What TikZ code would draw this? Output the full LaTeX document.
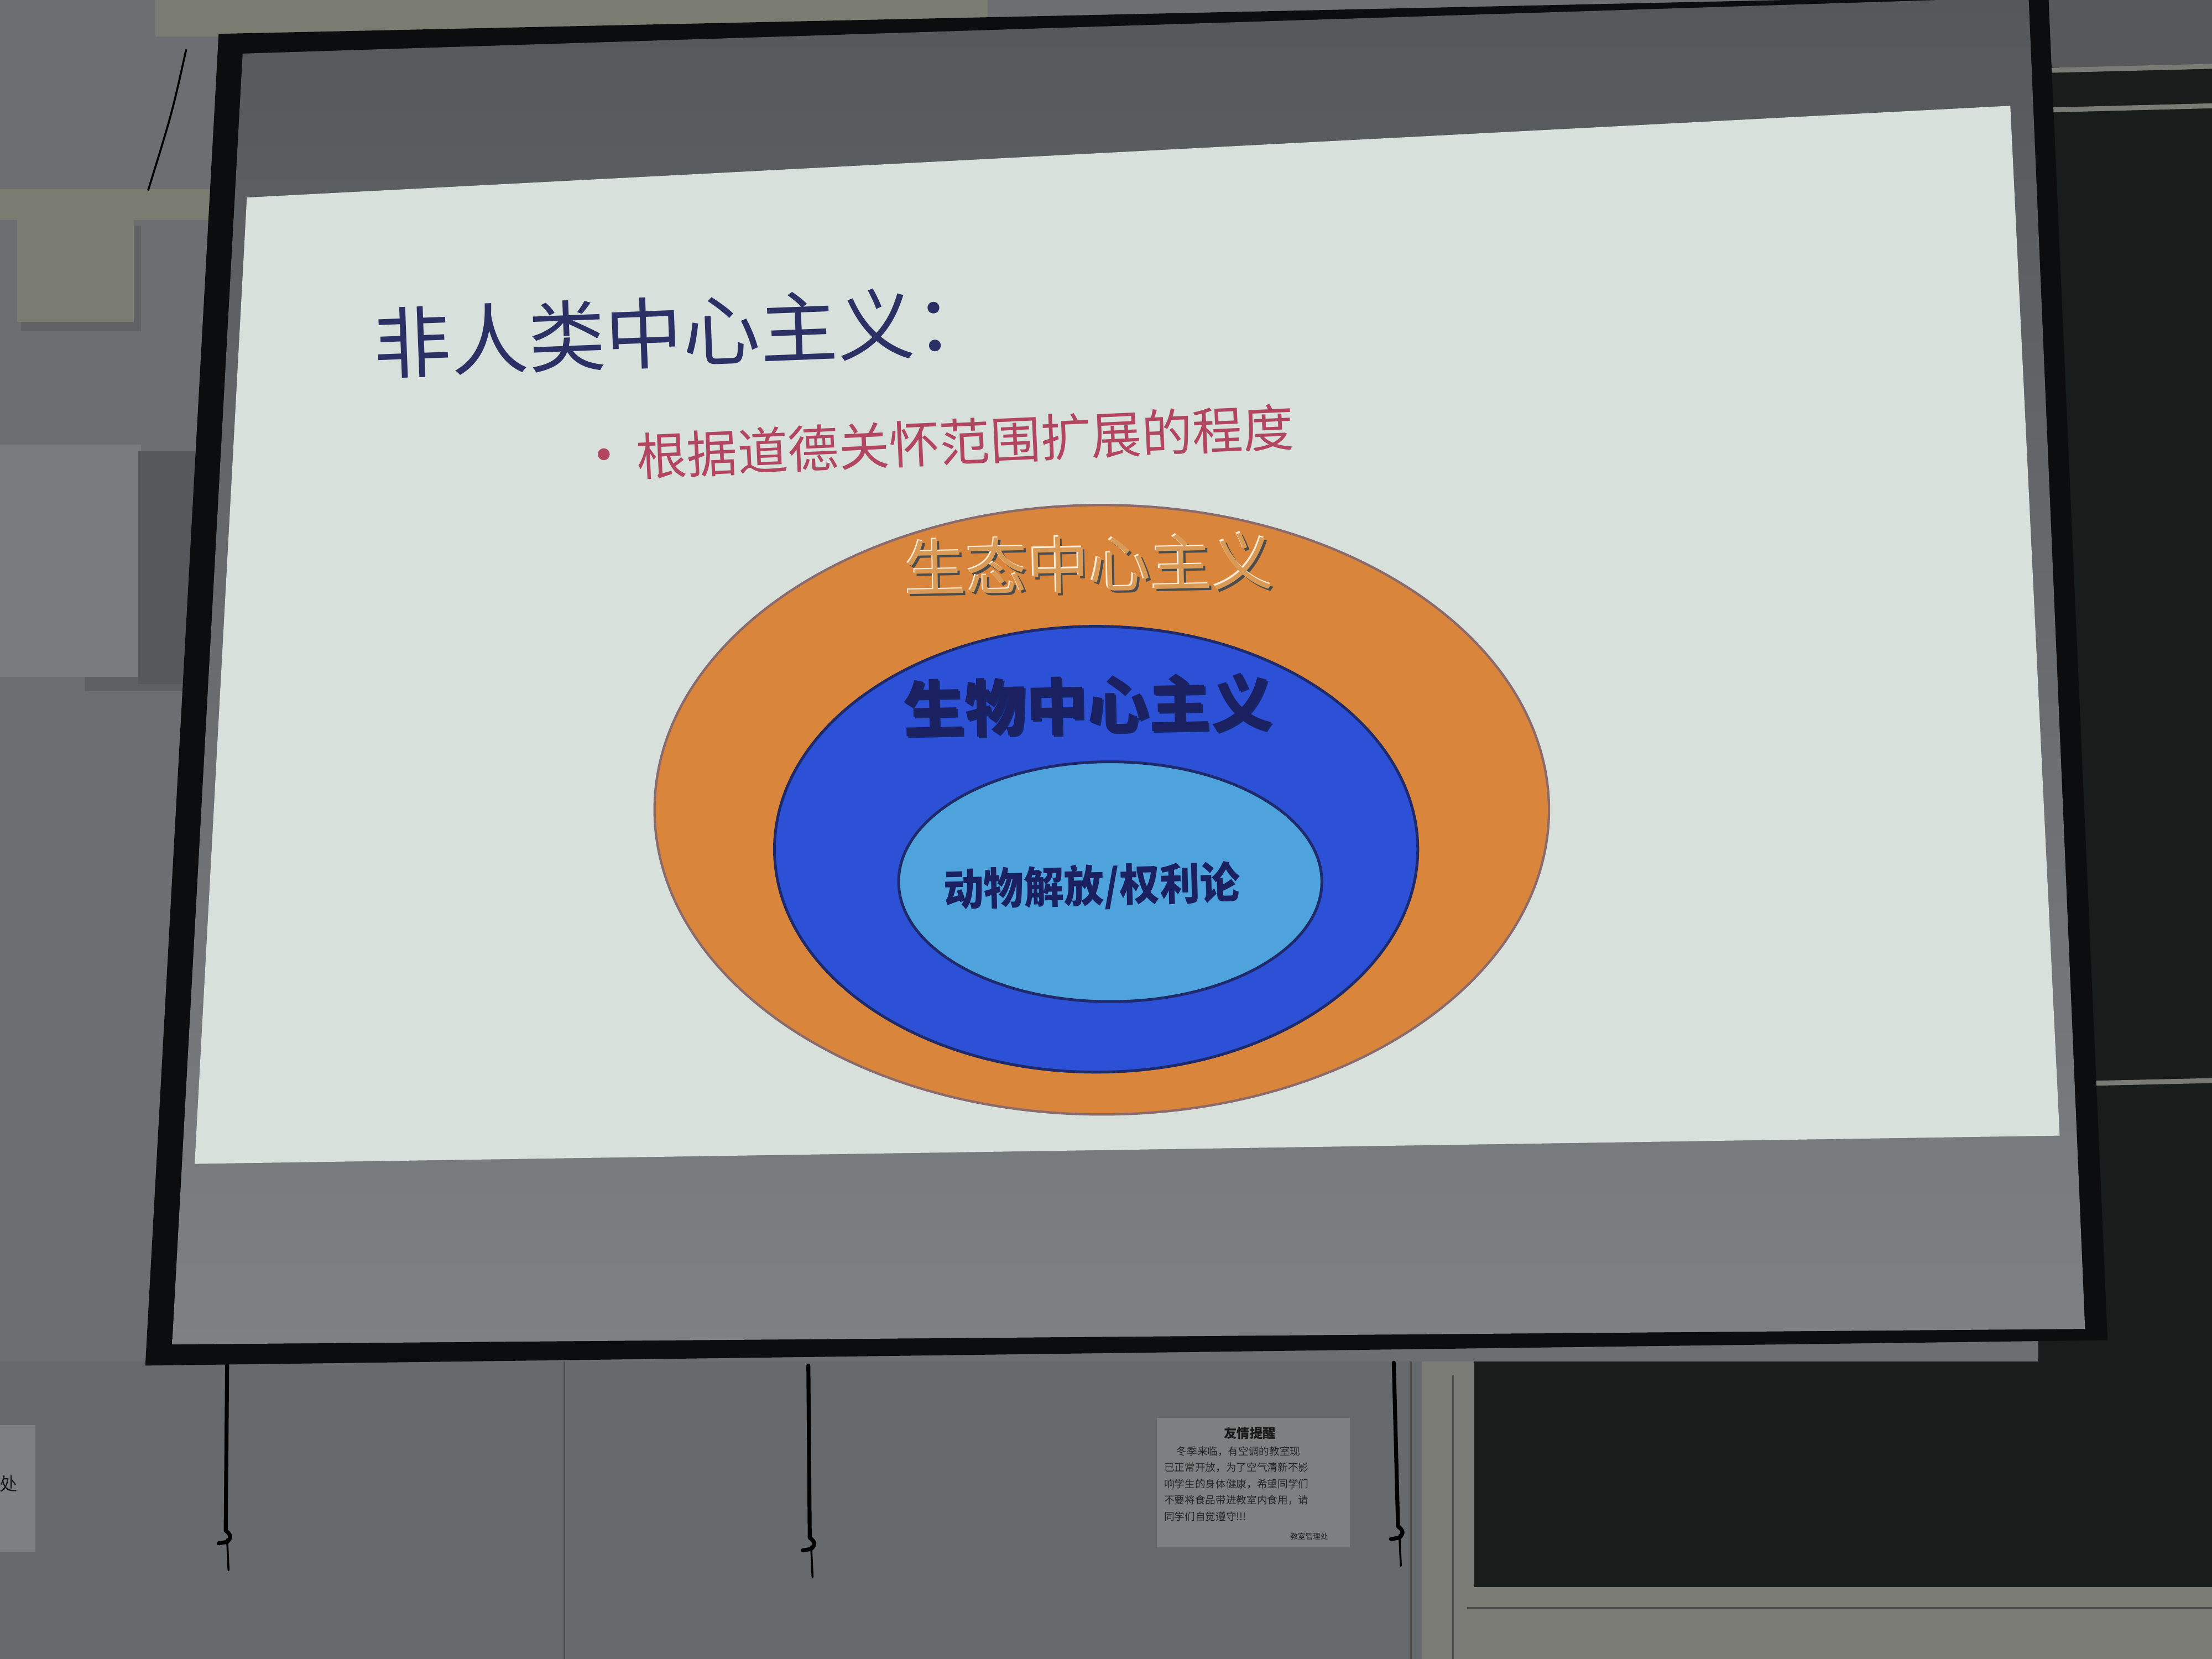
\documentclass[tikz,border=0pt]{standalone}
\usepackage{fontspec}
\newfontfamily\cjk{Noto Sans CJK SC}
\definecolor{wall}{HTML}{6C6E71}
\definecolor{walllow}{HTML}{676A6C}
\definecolor{fitting}{HTML}{7A7C72}
\definecolor{board}{HTML}{181C1A}
\definecolor{boardframe}{HTML}{7A7B75}
\definecolor{frameblack}{HTML}{0C0D0E}
\definecolor{screentop}{HTML}{55585A}
\definecolor{screenlow}{HTML}{7E8183}
\definecolor{slidebg}{HTML}{D8E0DC}
\definecolor{titlecol}{HTML}{2B3165}
\definecolor{bulletcol}{HTML}{B2455F}
\definecolor{orangefill}{HTML}{D9853B}
\definecolor{orangeline}{HTML}{8A6A6A}
\definecolor{bluefill}{HTML}{2C50D6}
\definecolor{lightbluefill}{HTML}{4EA3DD}
\definecolor{navyline}{HTML}{1E2A6A}
\definecolor{labelnavy}{HTML}{1A2060}
\definecolor{engrave}{HTML}{D99A55}
\definecolor{paper}{HTML}{7E7F80}
\tikzset{
  cjktext/.style={inner sep=0pt, font=\cjk},
  cable/.style={draw=black, line width=2pt, line cap=round, line join=round},
  cabletail/.style={draw=black, line width=1pt, line cap=round},
  seam/.style={draw=black!70, line width=1pt},
}
\begin{document}
\begin{tikzpicture}[x=0.025cm, y=-0.025cm]
\useasboundingbox (0,0) rectangle (1568,1176);

% room: wall, blackboards
\fill[wall] (0,0) rectangle (1568,1176);
\fill[walllow] (0,965) rectangle (1015,1176);
\fill[board] (1445,0) rectangle (1568,965);
\fill[wall!80!black] (1445,0) rectangle (1568,48);
\draw[boardframe, line width=2.5pt] (1447,50) -- (1568,47);
\draw[boardframe, line width=2.5pt] (1450,78) -- (1568,75);
\draw[boardframe, line width=2.5pt] (1478,768) -- (1568,766);
\fill[board] (1030,965) rectangle (1568,1128);
\fill[boardframe] (1008,965) rectangle (1045,1176);
\draw[black!70, line width=1pt] (1030,975) -- (1030,1176);
\fill[boardframe] (1040,1125) rectangle (1568,1176);
\draw[black!70, line width=1pt] (1040,1140) -- (1568,1140);
\draw[seam] (400,965) -- (400,1176);
\draw[seam] (1000,965) -- (1000,1176);

% fittings on the left wall
\fill[fitting] (0,134) rectangle (160,156);
\fill[black!70, opacity=0.35] (15,160) rectangle (100,235);
\fill[fitting] (12,155) rectangle (95,228);
\fill[black!70, opacity=0.4] (60,320) rectangle (155,490);
\fill[wall!92!white] (0,315) rectangle (100,480);
\fill[wall!80!black] (98,320) rectangle (152,485);
\draw[black, line width=1pt] (132,35) .. controls (122,80) .. (105,135);
\fill[paper] (0,1010) rectangle (25,1100);
\node[cjktext, font=\cjk\fontsize{9}{9}\selectfont, text=black!90] (sidenote) at (6,1052) {处};

% screen housing and frame
\fill[fitting] (110,0) rectangle (700,26);
\fill[frameblack] (155,24) -- (1452,-4) -- (1494,950) -- (103,968) -- cycle;
\shade[top color=screentop, bottom color=screenlow]
  (172,38) -- (1438,-2) -- (1478,942) -- (122,953) -- cycle;

% projected slide
\fill[slidebg] (175,140) -- (1425,75) -- (1460,805) -- (138,825) -- cycle;

% slide title and bullet
\node[cjktext, text=titlecol, font=\cjk\fontsize{39}{39}\selectfont, rotate=2.2]
  (title) at (484,235) {非人类中心主义：};
\fill[bulletcol] (428,322) circle (4.2);
\node[cjktext, text=bulletcol, font=\cjk\fontsize{25.5}{25.5}\selectfont, rotate=2.6]
  (scope) at (684,313) {根据道德关怀范围扩展的程度};

% nested circles of moral concern
\draw[fill=orangefill, draw=orangeline, line width=1.2pt]
  (781,574) ellipse [x radius=317, y radius=216];
\draw[fill=bluefill, draw=navyline, line width=1.4pt]
  (777,602) ellipse [x radius=228, y radius=158];
\draw[fill=lightbluefill, draw=navyline, line width=1.4pt]
  (787,625) ellipse [x radius=150, y radius=85];

% engraved outer label
\node[cjktext, text=black!70, font=\cjk\fontsize{31}{31}\selectfont, rotate=1.2]
  (ecoshadow) at (773.5,401.5) {生态中心主义};
\node[cjktext, text=white!85!orange, font=\cjk\fontsize{31}{31}\selectfont, rotate=1.2]
  (ecolight) at (771,399) {生态中心主义};
\node[cjktext, text=engrave, font=\cjk\fontsize{31}{31}\selectfont, rotate=1.2]
  (eco) at (772,400) {生态中心主义};

% middle and inner labels
\node[cjktext, text=black, opacity=0.5, font=\cjk\bfseries\fontsize{31}{31}\selectfont, rotate=1.2]
  (bioshadow) at (772.2,501.2) {生物中心主义};
\node[cjktext, text=labelnavy, font=\cjk\bfseries\fontsize{31}{31}\selectfont, rotate=1.2]
  (bio) at (771,500) {生物中心主义};
\node[cjktext, text=labelnavy, font=\cjk\bfseries\fontsize{22}{22}\selectfont, rotate=1.5, xscale=0.92]
  (animal) at (774,629) {动物解放/权利论};

% below the screen: hanging pull cords with knotted ends
\coordinate (c1top) at (161,968);
\coordinate (c1knot) at (160,1085);
\coordinate (c2top) at (573,968);
\coordinate (c2knot) at (574,1090);
\coordinate (c3top) at (988,966);
\coordinate (c3knot) at (991,1082);
\foreach \c in {c1,c2,c3} {
  \draw[cable] (\c top) -- (\c knot)
    .. controls ++(4,3) and ++(3,-3) .. ++(1,8)
    -- ++(-6,1);
  \draw[cabletail] ([shift={(1,6)}]\c knot) -- ++(1,22);
}

% notice sheet on the wall
\fill[paper] (820,1005) rectangle (957,1097);
\node[cjktext, text=black!90, font=\cjk\bfseries\fontsize{6.5}{6.5}\selectfont]
  (noticehead) at (886,1016) {友情提醒};
\node[cjktext, text=black!85, font=\cjk\fontsize{5.2}{8.2}\selectfont, align=left, anchor=north west]
  (noticebody) at (825,1025) {\hspace*{1.2em}冬季来临，有空调的教室现\\已正常开放，为了空气清新不影\\响学生的身体健康，希望同学们\\不要将食品带进教室内食用，请\\同学们自觉遵守!!!};
\node[cjktext, text=black!85, font=\cjk\fontsize{3.8}{3.8}\selectfont]
  (noticesign) at (928,1089) {教室管理处};
\end{tikzpicture}
\end{document}
